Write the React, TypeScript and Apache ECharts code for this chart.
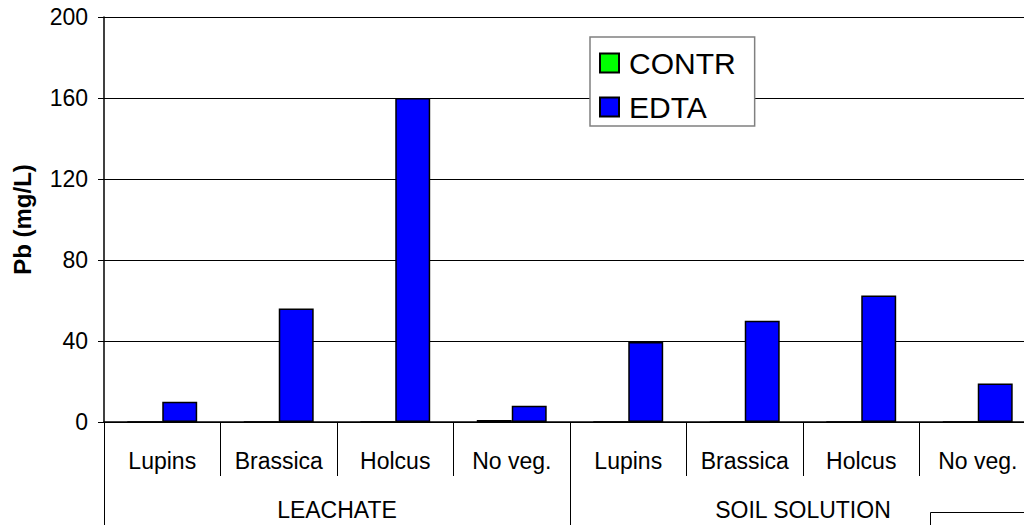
import React, { useEffect, useRef } from "react";
import * as echarts from "echarts";

const categories = ["Lupins", "Brassica", "Holcus", "No veg.", "Lupins", "Brassica", "Holcus", "No veg."];
const groups = ["LEACHATE", "SOIL SOLUTION"];
const contr = [0, 0, 0, 1, 0, 0, 0, 0];
const edta = [10, 56, 160, 8, 39.5, 50, 62.5, 19];
const yTicks = { min: 0, max: 200, interval: 40 };

const FONT = "'Liberation Sans', Arial, sans-serif";

export default function App() {
  const ref = useRef<HTMLDivElement>(null);
  useEffect(() => {
    if (!ref.current) return;
    const chart = echarts.init(ref.current, null, { renderer: "svg" });
    chart.setOption({
      animation: false,
      backgroundColor: "#fff",
      textStyle: { fontFamily: FONT },
      grid: { left: 104, top: 17, right: 0, bottom: 103, containLabel: false, outerBoundsMode: "none" },
      legend: {
        orient: "vertical",
        left: 590,
        top: 37,
        padding: [11, 19, 4, 9],
        itemGap: 14,
        itemWidth: 19,
        itemHeight: 19,
        icon: "rect",
        backgroundColor: "#fff",
        borderColor: "#808080",
        borderWidth: 1.5,
        textStyle: { fontSize: 30, color: "#000", fontFamily: FONT, padding: [0, 0, 0, 5] },
        data: ["CONTR", "EDTA"],
      },
      xAxis: [
        {
          type: "category",
          data: categories,
          position: "bottom",
          axisLine: { show: true, lineStyle: { color: "#000", width: 1.5 } },
          axisTick: { show: true, length: 54, lineStyle: { color: "#000", width: 1 } },
          axisLabel: { color: "#000", fontSize: 23, margin: 27, fontFamily: FONT },
        },
        {
          type: "category",
          data: groups,
          position: "bottom",
          axisLine: { show: false },
          axisTick: { show: true, length: 110, lineStyle: { color: "#000", width: 1 } },
          axisLabel: { color: "#000", fontSize: 23, margin: 76, fontFamily: FONT },
        },
      ],
      yAxis: {
        type: "value",
        min: yTicks.min,
        max: yTicks.max,
        interval: yTicks.interval,
        name: "Pb (mg/L)",
        nameLocation: "middle",
        nameGap: 70,
        nameTextStyle: { fontSize: 24, fontWeight: "bold", color: "#000", fontFamily: FONT },
        axisLine: { show: true, lineStyle: { color: "#000", width: 1.5 } },
        axisTick: { show: true, length: 6, lineStyle: { color: "#000" } },
        axisLabel: { color: "#000", fontSize: 23, margin: 16, fontFamily: FONT },
        splitLine: { show: true, lineStyle: { color: "#000", width: 1 } },
      },
      series: [
        {
          name: "CONTR",
          type: "bar",
          xAxisIndex: 0,
          data: contr,
          barGap: "0%",
          barCategoryGap: "40%",
          itemStyle: { color: "#00ff00", borderColor: "#000", borderWidth: 1.5 },
        },
        {
          name: "EDTA",
          type: "bar",
          xAxisIndex: 0,
          data: edta,
          barGap: "0%",
          barCategoryGap: "40%",
          itemStyle: { color: "#0000ff", borderColor: "#000", borderWidth: 1.5 },
        },
      ],
      graphic: [
        {
          type: "rect",
          left: 930,
          top: 512,
          shape: { width: 110, height: 30 },
          style: { fill: "#fff", stroke: "#000", lineWidth: 1 },
        },
      ],
    });
    return () => chart.dispose();
  }, []);
  return (
    <div style={{ position: "absolute", left: 0, top: 0, width: 1024, height: 525, overflow: "hidden" }}>
      <div ref={ref} style={{ width: 1036, height: 525 }} />
    </div>
  );
}
